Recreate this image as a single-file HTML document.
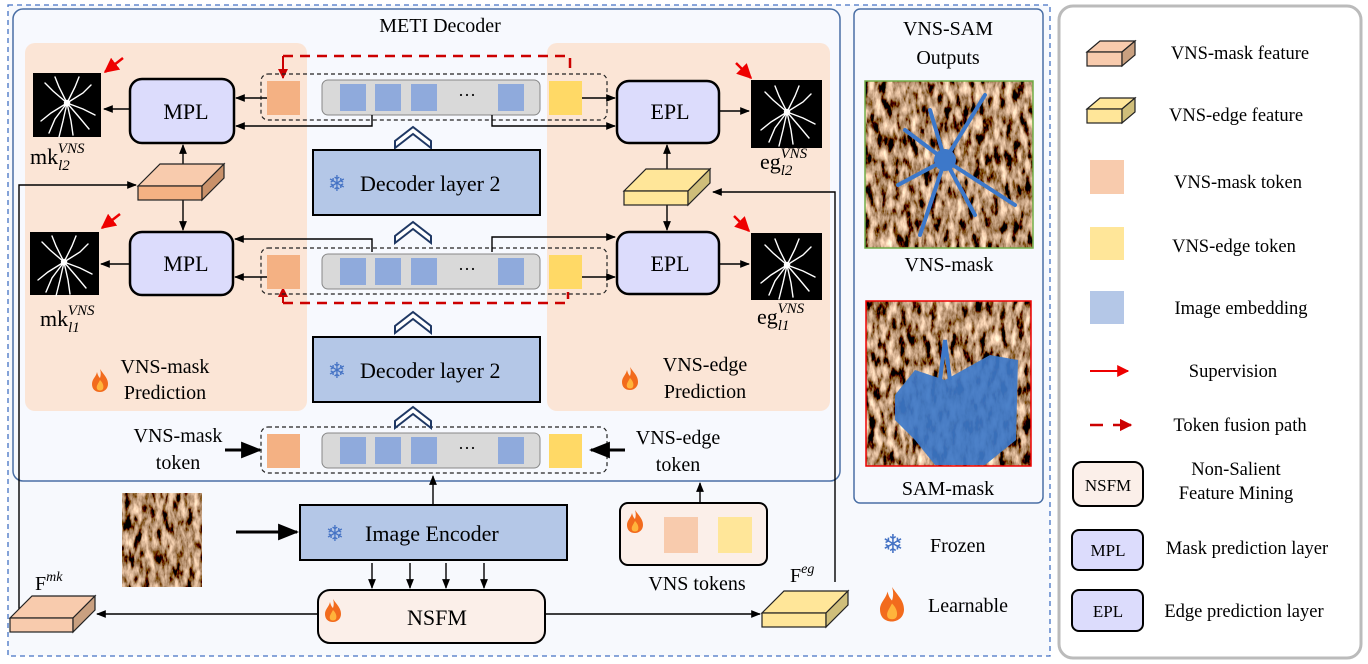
<!DOCTYPE html>
<html><head><meta charset="utf-8"><style>
html,body{margin:0;padding:0;background:#fff;}
svg{display:block;font-family:"Liberation Serif",serif;}
</style></head><body>
<svg width="1368" height="664" viewBox="0 0 1368 664" xmlns="http://www.w3.org/2000/svg">
<defs>
<marker id="ah" viewBox="0 0 10 10" refX="9" refY="5" markerWidth="7" markerHeight="7" orient="auto"><path d="M0,1 L10,5 L0,9 z" fill="#000"/></marker>
<marker id="ahr" viewBox="0 0 10 10" refX="9" refY="5" markerWidth="6" markerHeight="6" orient="auto"><path d="M0,0 L10,5 L0,10 z" fill="#e00"/></marker>
<marker id="ahd" viewBox="0 0 10 10" refX="9" refY="5" markerWidth="5" markerHeight="5" orient="auto"><path d="M0,0 L10,5 L0,10 z" fill="#c00"/></marker>
<filter id="barkf" x="0" y="0" width="100%" height="100%">
<feTurbulence type="fractalNoise" baseFrequency="0.16 0.06" numOctaves="4" seed="7" result="n"/>
<feColorMatrix in="n" type="matrix" values="2.4 0 0 0 -0.75  1.9 0 0 0 -0.68  1.5 0 0 0 -0.6  0 0 0 0 1"/>
</filter>
<g id="spider" stroke="#fff" stroke-width="1.4" fill="none" stroke-linecap="round">
<path d="M34,30 L20,18 L12,10 M34,30 L26,14 L22,4 M34,30 L42,14 L46,4 M34,30 L50,20 L58,12 M34,30 L18,40 L8,48 M34,30 L22,46 L16,60 M34,30 L46,44 L56,56 M34,30 L50,36 L62,42 M34,30 L38,48 L40,62 M34,30 L30,48 L26,64"/>
<circle cx="34" cy="30" r="2.5" fill="#fff"/>
</g>
<g id="fire"><path d="M8,0 C12,6 16,9 16,15 C16,20 12,23 8,23 C3,23 0,20 0,15 C0,10 4,8 5,3 C6,7 7,8 8,9 C9,6 9,3 8,0 z" fill="#f26b1d"/><path d="M8,11 C11,14 12,17 11,20 C10,22 6,22 5,20 C4,17 6,15 8,11 z" fill="#ffb43b"/></g>
<g id="chev"><path d="M-18,8 L0,-6 L18,8 L18,1 L0,-13 L-18,1 z" fill="#fff" stroke="#1f3864" stroke-width="2"/></g>
</defs>

<rect x="0" y="0" width="1368" height="664" fill="#fff"/>
<rect x="8" y="5" width="1042" height="651" fill="#f7f9fd" stroke="#4472c4" stroke-width="1.3" stroke-dasharray="5,4"/>
<rect x="13" y="9" width="827" height="472" rx="10" fill="#f7f9fe" stroke="#4a6fa5" stroke-width="1.5"/>
<text x="440" y="32" font-size="20" text-anchor="middle">METI Decoder</text>
<rect x="25" y="43" width="282" height="368" rx="10" fill="#fbe5d6"/>
<rect x="547" y="43" width="283" height="368" rx="10" fill="#fbe5d6"/>

<path d="M283,56 L570,56 L570,73" fill="none" stroke="#c00" stroke-width="2.5" stroke-dasharray="10,7"/>
<path d="M283,56 L283,78" fill="none" stroke="#c00" stroke-width="2" marker-end="url(#ahd)"/>
<path d="M283,303 L568,303 L568,292" fill="none" stroke="#c00" stroke-width="2.5" stroke-dasharray="10,7"/>
<path d="M283,303 L283,288" fill="none" stroke="#c00" stroke-width="2" marker-end="url(#ahd)"/>

<g id="row1">
<rect x="261" y="74" width="346" height="46" rx="7" fill="none" stroke="#222" stroke-width="1.2" stroke-dasharray="4,3"/>
<rect x="267" y="81" width="33" height="34" fill="#f4b183"/>
<rect x="322" y="80" width="218" height="35" rx="6" fill="#d9d9d9" stroke="#888" stroke-width="1"/>
<rect x="340" y="84" width="26" height="27" fill="#8faadc"/><rect x="375" y="84" width="26" height="27" fill="#8faadc"/><rect x="411" y="84" width="26" height="27" fill="#8faadc"/><rect x="498" y="84" width="26" height="27" fill="#8faadc"/>
<text x="467" y="101" font-size="18" text-anchor="middle">···</text>
<rect x="549" y="81" width="33" height="34" fill="#ffd966"/>
</g>
<use href="#row1" transform="translate(0,174)"/>
<use href="#row1" transform="translate(0,353)"/>

<use href="#chev" x="413" y="140"/>
<use href="#chev" x="413" y="235"/>
<use href="#chev" x="413" y="325"/>
<use href="#chev" x="413" y="420"/>

<rect x="313" y="150" width="227" height="65" fill="#b4c7e7" stroke="#000" stroke-width="2"/>
<text x="337" y="191" font-size="22" fill="#4472c4" text-anchor="middle" font-family="DejaVu Sans">❄</text>
<text x="360" y="191" font-size="22">Decoder layer 2</text>
<rect x="313" y="337" width="227" height="65" fill="#b4c7e7" stroke="#000" stroke-width="2"/>
<text x="337" y="378" font-size="22" fill="#4472c4" text-anchor="middle" font-family="DejaVu Sans">❄</text>
<text x="360" y="378" font-size="22">Decoder layer 2</text>

<g stroke="#000" stroke-width="2.5" fill="#dcdcfc">
<rect x="130" y="79" width="104" height="64" rx="12"/>
<rect x="130" y="232" width="103" height="63" rx="12"/>
<rect x="617" y="81" width="102" height="62" rx="12"/>
<rect x="617" y="232" width="102" height="62" rx="12"/>
</g>
<g font-size="22" text-anchor="middle">
<text x="186" y="119">MPL</text><text x="186" y="271">MPL</text>
<text x="670" y="119">EPL</text><text x="670" y="271">EPL</text>
</g>

<g stroke="#000" stroke-width="1.4" fill="none" marker-end="url(#ah)">
<path d="M267,98 L236,98"/>
<path d="M372,115 L372,126 L236,126"/>
<path d="M130,109 L104,109"/>
<path d="M267,277 L235,277"/>
<path d="M372,252 L372,239 L235,239"/>
<path d="M130,264 L101,264"/>
<path d="M582,98 L615,98"/>
<path d="M492,115 L492,126 L615,126"/>
<path d="M719,111 L749,111"/>
<path d="M582,277 L615,277"/>
<path d="M492,252 L492,237 L615,237"/>
<path d="M719,264 L749,264"/>
<path d="M183,172 L183,145"/>
<path d="M183,200 L183,230"/>
<path d="M667,175 L667,145"/>
<path d="M667,205 L667,230"/>
<path d="M19,614 L19,185 L136,185"/>
<path d="M835,582 L835,192 L713,192"/>
<path d="M318,614 L97,614"/>
<path d="M545,614 L760,614"/>
<path d="M433,505 L433,476"/>
<path d="M700,503 L700,483"/>
<path d="M372,563 L372,588"/><path d="M410,563 L410,588"/><path d="M446,563 L446,588"/><path d="M484,563 L484,588"/>
</g>
<g stroke="#000" stroke-width="3" fill="none" marker-end="url(#ah)">
<path d="M225,450 L260,450"/>
<path d="M625,450 L591,450"/>
<path d="M236,532 L297,532"/>
</g>

<g stroke="#e00" stroke-width="2.5" marker-end="url(#ahr)">
<path d="M123,58 L105,72"/><path d="M120,214 L102,228"/>
<path d="M736,63 L751,78"/><path d="M734,216 L749,231"/>
</g>

<rect x="33" y="73" width="68" height="64" fill="#000"/><use href="#spider" x="33" y="73"/>
<rect x="30" y="232" width="69" height="63" fill="#000"/><use href="#spider" x="30" y="232"/>
<rect x="751" y="80" width="71" height="68" fill="#000"/><use href="#spider" x="753" y="82"/>
<rect x="751" y="233" width="71" height="67" fill="#000"/><use href="#spider" x="753" y="235"/>

<g font-size="22">
<text x="30" y="164">mk<tspan font-size="15" dy="6" font-style="italic">l2</tspan><tspan font-size="15" dy="-17" dx="-12" font-style="italic">VNS</tspan></text>
<text x="40" y="326">mk<tspan font-size="15" dy="6" font-style="italic">l1</tspan><tspan font-size="15" dy="-17" dx="-12" font-style="italic">VNS</tspan></text>
<text x="760" y="169">eg<tspan font-size="15" dy="6" font-style="italic">l2</tspan><tspan font-size="15" dy="-17" dx="-12" font-style="italic">VNS</tspan></text>
<text x="757" y="324">eg<tspan font-size="15" dy="6" font-style="italic">l1</tspan><tspan font-size="15" dy="-17" dx="-12" font-style="italic">VNS</tspan></text>
</g>

<g stroke="#222" stroke-width="1.2">
<path d="M138,186 L160,164 L224,164 L202,186 z" fill="#f8cbad"/><rect x="138" y="186" width="64" height="14" fill="#f4b183"/><path d="M202,186 L224,164 L224,178 L202,200 z" fill="#c9916a"/>
<path d="M624,191 L646,169 L710,169 L688,191 z" fill="#ffe699"/><rect x="624" y="191" width="64" height="14" fill="#ffe699"/><path d="M688,191 L710,169 L710,183 L688,205 z" fill="#cfbe7a"/>
<path d="M10,618 L32,596 L95,596 L73,618 z" fill="#f8cbad"/><rect x="10" y="618" width="63" height="14" fill="#f8cbad"/><path d="M73,618 L95,596 L95,610 L73,632 z" fill="#c9a080"/>
<path d="M762,613 L784,591 L848,591 L826,613 z" fill="#ffe699"/><rect x="762" y="613" width="64" height="14" fill="#ffe699"/><path d="M826,613 L848,591 L848,605 L826,627 z" fill="#cfbe7a"/>
</g>

<use href="#fire" x="92" y="369"/>
<text x="165" y="373" font-size="20" text-anchor="middle">VNS-mask</text>
<text x="165" y="399" font-size="20" text-anchor="middle">Prediction</text>
<use href="#fire" x="622" y="367"/>
<text x="705" y="371" font-size="20" text-anchor="middle">VNS-edge</text>
<text x="705" y="398" font-size="20" text-anchor="middle">Prediction</text>

<text x="178" y="442" font-size="20" text-anchor="middle">VNS-mask</text>
<text x="178" y="469" font-size="20" text-anchor="middle">token</text>
<text x="678" y="444" font-size="20" text-anchor="middle">VNS-edge</text>
<text x="678" y="471" font-size="20" text-anchor="middle">token</text>

<rect x="122" y="493" width="80" height="94" filter="url(#barkf)"/>
<rect x="300" y="505" width="267" height="55" fill="#b4c7e7" stroke="#000" stroke-width="2"/>
<text x="335" y="541" font-size="22" fill="#4472c4" text-anchor="middle" font-family="DejaVu Sans">❄</text>
<text x="365" y="541" font-size="22">Image Encoder</text>
<rect x="318" y="590" width="227" height="53" rx="12" fill="#fbefe9" stroke="#000" stroke-width="2"/>
<use href="#fire" x="325" y="599"/>
<text x="437" y="625" font-size="22" text-anchor="middle">NSFM</text>
<rect x="620" y="503" width="147" height="62" rx="8" fill="#fbefe9" stroke="#000" stroke-width="2"/>
<use href="#fire" x="627" y="510"/>
<rect x="664" y="517" width="34" height="36" fill="#f8cbad"/>
<rect x="718" y="517" width="34" height="36" fill="#ffe699"/>
<text x="697" y="590" font-size="20" text-anchor="middle">VNS tokens</text>
<text x="35" y="590" font-size="20">F<tspan font-size="14" dy="-9" font-style="italic">mk</tspan></text>
<text x="790" y="582" font-size="20">F<tspan font-size="14" dy="-9" font-style="italic">eg</tspan></text>

<rect x="854" y="9" width="189" height="494" rx="6" fill="#f7f9fe" stroke="#4a6fa5" stroke-width="1.5"/>
<text x="948" y="35" font-size="20" text-anchor="middle">VNS-SAM</text>
<text x="948" y="64" font-size="20" text-anchor="middle">Outputs</text>
<rect x="865" y="81" width="168" height="167" filter="url(#barkf)"/>
<rect x="865" y="81" width="168" height="167" fill="none" stroke="#70ad47" stroke-width="1.5"/>
<g stroke="#3d78c9" stroke-width="4" fill="none" stroke-linecap="round">
<path d="M945,160 L905,130 M945,160 L985,95 M945,160 L898,185 M945,160 L920,235 M945,160 L1015,205 M945,160 L975,215 M945,160 L930,110"/>
<circle cx="945" cy="160" r="9" fill="#3d78c9"/>
</g>
<text x="949" y="271" font-size="20" text-anchor="middle">VNS-mask</text>
<rect x="866" y="301" width="165" height="165" filter="url(#barkf)"/>
<rect x="866" y="301" width="165" height="165" fill="none" stroke="#e00" stroke-width="1.5"/>
<path d="M895,395 L915,370 L945,380 L990,355 L1018,360 L1016,440 L985,465 L935,465 L915,440 L895,420 z" fill="#3d78c9" opacity="0.92"/>
<path d="M940,380 L945,340 L950,380" stroke="#3d78c9" stroke-width="4" fill="none"/>
<text x="948" y="495" font-size="20" text-anchor="middle">SAM-mask</text>
<text x="893" y="553" font-size="26" fill="#4472c4" text-anchor="middle" font-family="DejaVu Sans">❄</text>
<text x="930" y="552" font-size="20">Frozen</text>
<g transform="translate(880,587) scale(1.5)"><use href="#fire"/></g>
<text x="928" y="612" font-size="20">Learnable</text>

<rect x="1059" y="6" width="302" height="652" rx="14" fill="#fff" stroke="#bbb" stroke-width="3"/>
<g stroke="#222" stroke-width="1.2">
<path d="M1087,52 L1100,41 L1135,41 L1122,52 z" fill="#f8cbad"/><rect x="1087" y="52" width="35" height="14" fill="#f8cbad"/><path d="M1122,52 L1135,41 L1135,55 L1122,66 z" fill="#c9a080"/>
<path d="M1087,109 L1100,98 L1135,98 L1122,109 z" fill="#ffe699"/><rect x="1087" y="109" width="35" height="14" fill="#ffe699"/><path d="M1122,109 L1135,98 L1135,112 L1122,123 z" fill="#cfbe7a"/>
</g>
<rect x="1090" y="160" width="34" height="34" fill="#f8cbad"/>
<rect x="1090" y="227" width="34" height="33" fill="#ffe699"/>
<rect x="1090" y="291" width="34" height="33" fill="#b4c7e7"/>
<path d="M1090,371 L1128,371" stroke="#e00" stroke-width="2" marker-end="url(#ahr)"/>
<path d="M1090,425 L1103,425 M1113,425 L1131,425" stroke="#c00" stroke-width="2.5" marker-end="url(#ahd)"/>
<rect x="1073" y="462" width="70" height="44" rx="9" fill="#fbefe9" stroke="#000" stroke-width="2"/>
<rect x="1072" y="530" width="71" height="40" rx="7" fill="#dcdcfc" stroke="#000" stroke-width="2"/>
<rect x="1072" y="590" width="71" height="41" rx="7" fill="#dcdcfc" stroke="#000" stroke-width="2"/>
<g font-size="17" text-anchor="middle">
<text x="1108" y="491">NSFM</text><text x="1108" y="556">MPL</text><text x="1108" y="617">EPL</text>
</g>
<g font-size="18.5" text-anchor="middle">
<text x="1240" y="59">VNS-mask feature</text>
<text x="1236" y="121">VNS-edge feature</text>
<text x="1238" y="188">VNS-mask token</text>
<text x="1234" y="252">VNS-edge token</text>
<text x="1241" y="314">Image embedding</text>
<text x="1233" y="377">Supervision</text>
<text x="1240" y="431">Token fusion path</text>
<text x="1236" y="475">Non-Salient</text>
<text x="1236" y="499">Feature Mining</text>
<text x="1247" y="554">Mask prediction layer</text>
<text x="1244" y="617">Edge prediction layer</text>
</g>
</svg>
</body></html>
